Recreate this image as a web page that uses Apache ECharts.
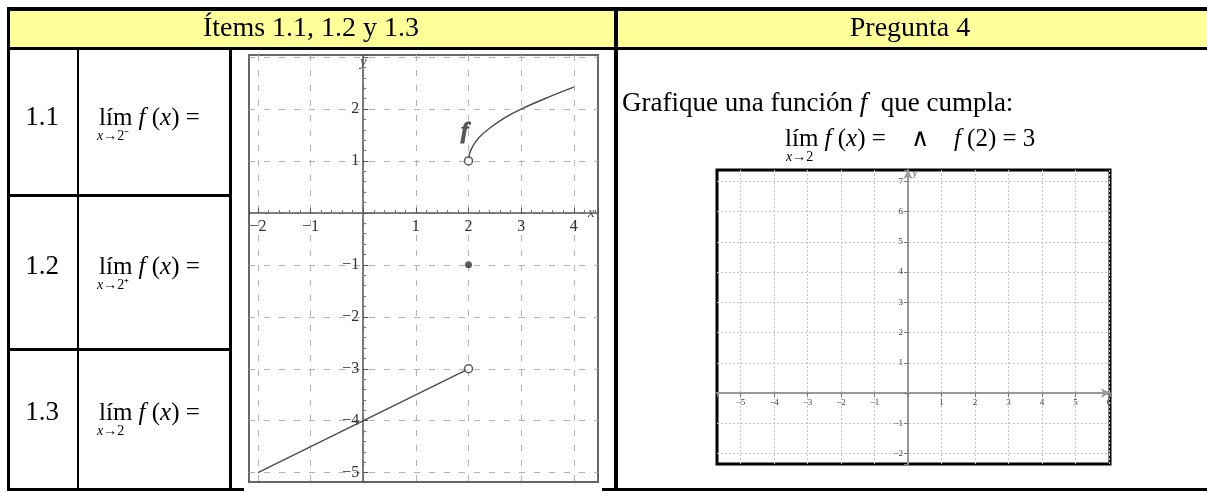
<!DOCTYPE html>
<html>
<head>
<meta charset="utf-8">
<script src="https://cdn.jsdelivr.net/npm/echarts@6/dist/echarts.min.js"></script>
<style>
html, body { margin: 0; padding: 0; background: #fff; }
#chart { width: 1207px; height: 492px; }
</style>
</head>
<body>
<div id="chart"></div>
<script>
// left graph: items 1.1 - 1.3
const rootX = [2, 2.02, 2.08, 2.2, 2.4, 2.7, 3, 3.5, 4];
const rootY = [1, 1.14, 1.28, 1.45, 1.63, 1.84, 2, 2.22, 2.42];
const segX = [-2, 2];
const segY = [-5, -3];
const openDots = [[2, 1], [2, -3]];
const fullDots = [[2, -1]];
const fLabelAt = [[1.93, 1.56]];
const leftXTicks = [-2, -1, 1, 2, 3, 4];
const leftYTicks = [2, 1, -1, -2, -3, -4, -5];

// right graph: pregunta 4 (empty grid)
const rightXTicks = [-5, -4, -3, -2, -1, 1, 2, 3, 4, 5, 6];
const rightYTicks = [7, 6, 5, 4, 3, 2, 1, -1, -2];

const rowLabels = ['1.1', '1.2', '1.3'];
const rowApproach = ['2⁻', '2⁺', '2'];

const SERIF = '"Liberation Serif", "Times New Roman", serif';
const rowY = [118, 267, 413];

const L = { left: 249, top: 55, width: 349, height: 427, xMin: -2.17, xMax: 4.46, yMin: -5.18, yMax: 3.04 };
const R = { left: 717, top: 170, width: 393, height: 294, xMin: -5.7, xMax: 6.03, yMin: -2.35, yMax: 7.38 };

// shift an edge axis onto the zero line of the crossing axis
const zeroShift = (min, max, size) => -size * (0 - min) / (max - min);

const chart = echarts.init(document.getElementById('chart'));

const minus = v => String(v).replace('-', '−');
const pick = ticks => v => (ticks.indexOf(Math.round(v * 1000) / 1000) >= 0 ? minus(v) : '');

function bar(x, y, w, h, fill) {
    return { type: 'rect', silent: true, shape: { x: x, y: y, width: w, height: h }, style: { fill: fill || '#000' } };
}

function label(x, y, text, size, align, rich) {
    return {
        type: 'text', silent: true,
        style: {
            x: x, y: y, text: text, fill: '#000',
            font: size + 'px ' + SERIF,
            textAlign: align || 'left', textVerticalAlign: 'middle',
            rich: rich
        }
    };
}

function mathRich(size) {
    return {
        u: { fontFamily: SERIF, fontSize: size, fill: '#000' },
        i: { fontFamily: SERIF, fontSize: size, fontStyle: 'italic', fill: '#000' }
    };
}

const graphic = [
    bar(10, 10, 1197, 37, '#FFFF99'),
    bar(7, 7, 1200, 4),
    bar(7, 47, 1200, 3),
    bar(7, 7, 3, 484),
    bar(614, 7, 4, 484),
    bar(77, 50, 2, 441),
    bar(229, 50, 3, 441),
    bar(7, 194, 225, 3),
    bar(7, 348, 225, 3),
    bar(7, 488, 237, 3),
    bar(602, 488, 605, 3),
    label(311, 29, 'Ítems 1.1, 1.2 y 1.3', 28, 'center'),
    label(910, 29, 'Pregunta 4', 28, 'center'),
    label(622, 104, '{u|Grafique una función }{i|f}{u|  que cumpla:}', 27, 'left', mathRich(27)),
    label(785, 139, '{u|lím }{i|f}{u| (}{i|x}{u|) =    ∧    }{i|f}{u| (2) = 3}', 25, 'left', mathRich(25)),
    label(786, 157, '{i|x}{u|→2}', 14, 'left', mathRich(14))
];

rowLabels.forEach((t, k) => {
    graphic.push(label(42, rowY[k], t, 27, 'center'));
    graphic.push(label(99, rowY[k], '{u|lím }{i|f}{u| (}{i|x}{u|) =}', 25, 'left', mathRich(25)));
    graphic.push(label(97, rowY[k] + 18, '{i|x}{u|→' + rowApproach[k] + '}', 14, 'left', mathRich(14)));
});

const dashed = { show: true, showMinLine: false, showMaxLine: false, lineStyle: { color: '#b4b4b4', width: 1, type: [6, 9] } };
const dotted = { show: true, showMinLine: false, showMaxLine: false, lineStyle: { color: '#c4c4c4', width: 1, type: [2, 2] } };

const option = {
    animation: false,
    backgroundColor: '#fff',
    graphic: graphic,
    grid: [
        { left: L.left, top: L.top, width: L.width, height: L.height, show: true, borderColor: '#666', borderWidth: 2, backgroundColor: 'transparent' },
        { left: R.left, top: R.top, width: R.width, height: R.height, show: true, borderColor: '#000', borderWidth: 3, backgroundColor: 'transparent' }
    ],
    xAxis: [
        {
            gridIndex: 0, type: 'value', min: L.xMin, max: L.xMax, minInterval: 1, maxInterval: 1,
            position: 'bottom', offset: zeroShift(L.yMin, L.yMax, L.height),
            name: 'x', nameLocation: 'end', nameGap: -10,
            nameTextStyle: { fontFamily: SERIF, fontStyle: 'italic', fontSize: 15, color: '#444', padding: [0, 0, 14, 0] },
            axisLine: { onZero: false, lineStyle: { color: '#555', width: 1.5 } },
            axisTick: { show: true, inside: true, length: 5, lineStyle: { color: '#555' } },
            minorTick: { show: true, splitNumber: 5, length: 3, lineStyle: { color: '#777' } },
            axisLabel: { formatter: pick(leftXTicks), fontFamily: SERIF, fontSize: 16, color: '#333', margin: 6 },
            splitLine: dashed
        },
        {
            gridIndex: 1, type: 'value', min: R.xMin, max: R.xMax, minInterval: 1, maxInterval: 1,
            position: 'bottom', offset: zeroShift(R.yMin, R.yMax, R.height),
            name: 'x', nameLocation: 'end', nameGap: -6,
            nameTextStyle: { fontFamily: SERIF, fontSize: 9, color: '#444', padding: [0, 0, 18, 0] },
            axisLine: { onZero: false, symbol: ['none', 'arrow'], symbolSize: [7, 9], lineStyle: { color: '#999', width: 2 } },
            axisTick: { show: true, length: 4, lineStyle: { color: '#777' } },
            axisLabel: { formatter: pick(rightXTicks), fontFamily: SERIF, fontSize: 9, color: '#444', margin: 5 },
            splitLine: dotted
        }
    ],
    yAxis: [
        {
            gridIndex: 0, type: 'value', min: L.yMin, max: L.yMax, minInterval: 1, maxInterval: 1,
            position: 'left', offset: zeroShift(L.xMin, L.xMax, L.width),
            name: 'y', nameLocation: 'end', nameGap: -15,
            nameTextStyle: { fontFamily: SERIF, fontStyle: 'italic', fontSize: 15, color: '#444' },
            axisLine: { onZero: false, lineStyle: { color: '#555', width: 1.5 } },
            axisTick: { show: true, inside: true, length: 5, lineStyle: { color: '#555' } },
            minorTick: { show: true, splitNumber: 5, length: 3, lineStyle: { color: '#777' } },
            axisLabel: { formatter: pick(leftYTicks), fontFamily: SERIF, fontSize: 16, color: '#333', margin: 4 },
            splitLine: dashed
        },
        {
            gridIndex: 1, type: 'value', min: R.yMin, max: R.yMax, minInterval: 1, maxInterval: 1,
            position: 'left', offset: zeroShift(R.xMin, R.xMax, R.width),
            name: 'y', nameLocation: 'end', nameGap: -8,
            nameTextStyle: { fontFamily: SERIF, fontSize: 9, color: '#444', padding: [0, 0, 0, 14] },
            axisLine: { onZero: false, symbol: ['none', 'arrow'], symbolSize: [7, 9], lineStyle: { color: '#999', width: 2 } },
            axisTick: { show: true, length: 4, lineStyle: { color: '#777' } },
            axisLabel: { formatter: pick(rightYTicks), fontFamily: SERIF, fontSize: 9, color: '#444', margin: 5 },
            splitLine: dotted
        }
    ],
    series: [
        {
            type: 'line', xAxisIndex: 0, yAxisIndex: 0, smooth: 0.4, symbol: 'none',
            data: rootX.map((x, k) => [x, rootY[k]]),
            lineStyle: { color: '#4a4a4a', width: 1.4 }
        },
        {
            type: 'line', xAxisIndex: 0, yAxisIndex: 0, symbol: 'none',
            data: segX.map((x, k) => [x, segY[k]]),
            lineStyle: { color: '#4a4a4a', width: 1.4 }
        },
        {
            type: 'scatter', xAxisIndex: 0, yAxisIndex: 0, symbolSize: 8, z: 5,
            data: openDots,
            itemStyle: { color: '#fff', borderColor: '#333', borderWidth: 1.5 }
        },
        {
            type: 'scatter', xAxisIndex: 0, yAxisIndex: 0, symbolSize: 7, z: 5,
            data: fullDots,
            itemStyle: { color: '#333' }
        },
        {
            type: 'scatter', xAxisIndex: 0, yAxisIndex: 0, symbolSize: 0,
            data: fLabelAt,
            label: {
                show: true, position: 'inside', formatter: 'f',
                fontFamily: SERIF, fontStyle: 'italic', fontWeight: 'bold', fontSize: 24,
                color: '#333', textBorderColor: '#333', textBorderWidth: 0.8
            }
        }
    ]
};

chart.setOption(option);
</script>
</body>
</html>
